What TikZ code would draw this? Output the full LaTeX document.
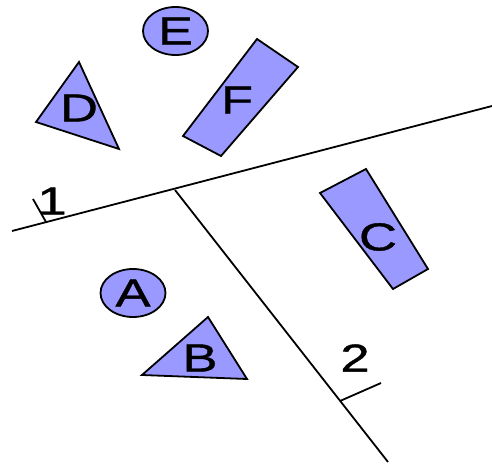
\documentclass[tikz,border=0pt]{standalone}
\usepackage{fontspec}
\setmainfont{Liberation Sans}[FakeStretch=1.35,FakeBold=1]
\usetikzlibrary{shapes.geometric}
\definecolor{zonefill}{HTML}{9999FF}

\begin{document}
\begin{tikzpicture}[
        x=1pt, y=-1pt,
        line width=1.8pt,
        zone/.style={
          draw=black,
          fill=zonefill,
          line join=miter
        },
        letter/.style={
          font=\fontsize{39}{39}\selectfont,
          inner sep=0pt
        },
        blob/.style={
          zone,
          letter,
          ellipse,
          minimum width=65pt,
          minimum height=48pt
        }
      ]
      \useasboundingbox (0,0) rectangle (492,465);

      % boundary lines
      \coordinate (w1) at (12,231);
      \coordinate (e1) at (492,106);
      \coordinate (j) at (175,190);
      \coordinate (s2) at (388,462);
      \draw (w1) -- (e1);
      \draw (j) -- (s2);

      % ticks and numbers
      \coordinate (t1a) at (46,222);
      \coordinate (t1b) at (33,199);
      \coordinate (t2a) at (340,401);
      \coordinate (t2b) at (381,383);
      \draw (t1a) -- (t1b);
      \draw (t2a) -- (t2b);
      \node[letter] (n1) at (52,201) {1};
      \node[letter] (n2) at (355,358) {2};

      % zones
      \node[blob] (E) at (175.5,31) {E};
      \node[blob] (A) at (133,293) {A};

      \filldraw[zone] (79,62) -- (36,122) -- (119,149) -- cycle;
      \node[letter] (D) at (79,108) {D};

      \filldraw[zone] (257,39) -- (298,67) -- (221,156) -- (183,136) -- cycle;
      \node[letter] (F) at (237,100) {F};

      \filldraw[zone] (320,193) -- (366,169) -- (428,269) -- (393,289) -- cycle;
      \node[letter] (C) at (378,237) {C};

      \filldraw[zone] (208,317) -- (142,375) -- (247,379) -- cycle;
      \node[letter] (B) at (200,358) {B};

      \end{tikzpicture}
\end{document}
